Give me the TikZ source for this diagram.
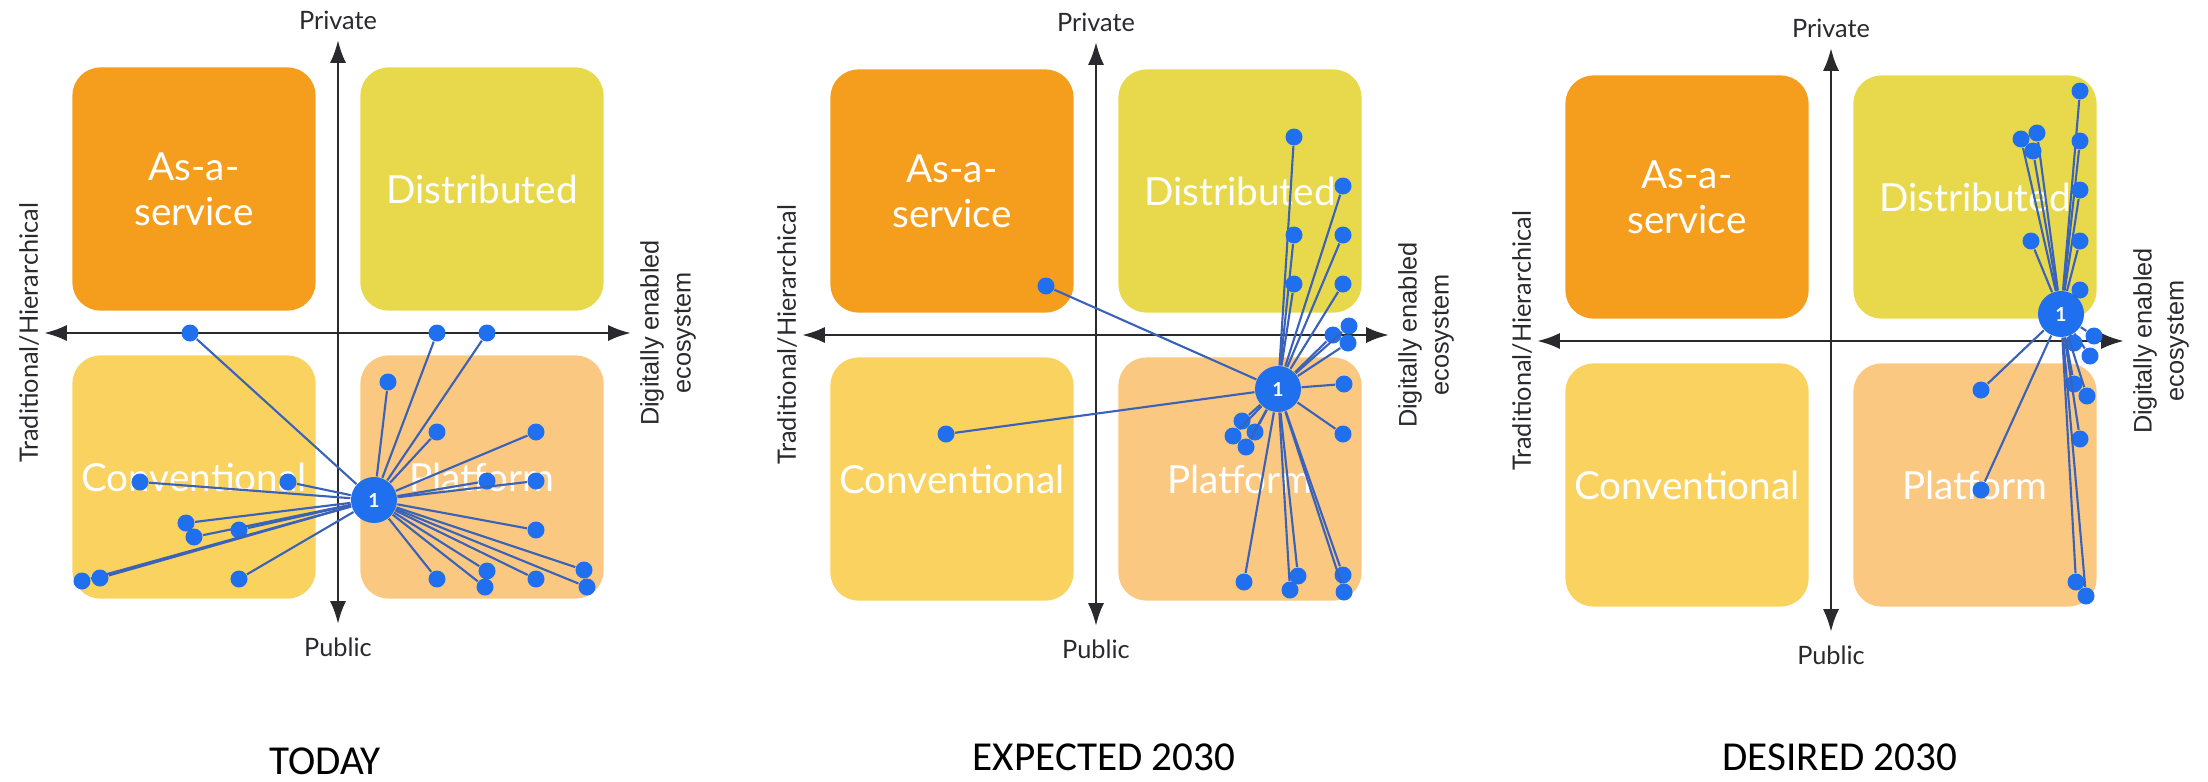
\documentclass[tikz,border=0pt]{standalone}
\usepackage{fontspec}
\setmainfont{Lato}
\newfontfamily\arialfont{Liberation Sans}
\newfontfamily\calibrifont{Carlito}
\usetikzlibrary{arrows.meta, positioning}

\definecolor{asorange}{HTML}{F59E1E}
\definecolor{distyellow}{HTML}{E8D94C}
\definecolor{convyellow}{HTML}{FAD25F}
\definecolor{platpeach}{HTML}{FAC880}
\definecolor{dotblue}{HTML}{1F6FEF}
\definecolor{linkblue}{HTML}{3A62B8}
\definecolor{axisgrey}{HTML}{2A2A2E}

\begin{document}
\begin{tikzpicture}[x=0.01cm, y=-0.01cm,
    quad/.style={rounded corners=0.28cm, minimum width=2.43cm, minimum height=2.43cm,
        inner sep=0pt, text=white, align=center, font=\fontsize{11}{12.8}\selectfont},
    axis/.style={draw=axisgrey, line width=0.8pt,
        {Latex[length=6.5pt,width=4.6pt]}-{Latex[length=6.5pt,width=4.6pt]}},
    axlabel/.style={inner sep=0pt, text=axisgrey, font=\fontsize{7.2}{8.6}\selectfont},
    ecolabel/.style={inner sep=0pt, text=axisgrey, align=center, rotate=90,
        font=\arialfont\fontsize{7.2}{9.1}\selectfont},
    dot/.style={circle, fill=dotblue, minimum size=0.17cm, inner sep=0pt},
    hub/.style={circle, fill=dotblue, minimum size=0.46cm, inner sep=0pt,
        text=white, font=\fontsize{5.5}{6}\selectfont\bfseries},
    link/.style={draw=linkblue, line width=0.6pt},
    title/.style={inner sep=0pt, font=\calibrifont\fontsize{11.7}{14}\selectfont}]

    \useasboundingbox (0,0) rectangle (2208,781);

    % the three quadrant charts
    \foreach \p/\ax/\ay in {1/338/333, 2/1096/335, 3/1831/341} {
        \node[quad, fill=asorange] (as\p) at (\ax-144,\ay-144) {As-a-\\service};
        \node[quad, fill=distyellow] (dist\p) at (\ax+144,\ay-144) {Distributed};
        \node[quad, fill=convyellow] (conv\p) at (\ax-144,\ay+144) {Conventional};
        \node[quad, fill=platpeach] (plat\p) at (\ax+144,\ay+144) {Platform};
        \coordinate (n\p) at (\ax,\ay-293);
        \coordinate (s\p) at (\ax,\ay+291);
        \coordinate (w\p) at (\ax-294,\ay);
        \coordinate (e\p) at (\ax+293,\ay);
        \draw[axis] (w\p) -- (e\p);
        \draw[axis] (s\p) -- (n\p);
        \node[axlabel] (priv\p) at (\ax,\ay-313) {Private};
        \node[axlabel] (pub\p) at (\ax,\ay+314) {Public};
        \node[axlabel, rotate=90] (trad\p) at (\ax-309,\ay) {Traditional/Hierarchical};
        \node[ecolabel] (eco\p) at (\ax+330,\ay) {Digitally enabled\\ecosystem};
    }

    % today
    \node[hub] (hub1) at (374,500) {1};
    \foreach \x/\y [count=\i] in {190/333, 437/333, 487/333, 388/382, 437/432,
        536/432, 140/482, 288/482, 487/481, 536/481, 186/523, 194/537, 239/530,
        536/530, 82/581, 100/578, 239/579, 437/579, 487/571, 485/587, 536/579,
        584/570, 587/587} {
        \node[dot] (t\i) at (\x,\y) {};
        \draw[link] (hub1) -- (t\i);
    }

    % expected 2030
    \node[hub] (hub2) at (1278,389) {1};
    \foreach \x/\y [count=\i] in {1046/286, 946/434, 1294/137, 1343/186,
        1294/235, 1343/235, 1294/284, 1343/284, 1333/335, 1349/326, 1348/343,
        1344/384, 1343/434, 1242/421, 1233/436, 1255/432, 1246/447, 1244/582,
        1298/576, 1290/590, 1343/575, 1344/592} {
        \node[dot] (x\i) at (\x,\y) {};
        \draw[link] (hub2) -- (x\i);
    }

    % desired 2030
    \node[hub] (hub3) at (2061,314) {1};
    \foreach \x/\y [count=\i] in {2080/91, 2021/139, 2037/133, 2033/151,
        2080/141, 2080/190, 2031/241, 2080/241, 2080/290, 2094/336, 2090/356,
        2074/343, 2074/384, 2087/396, 1981/390, 2080/439, 1981/490, 2076/582,
        2086/596} {
        \node[dot] (d\i) at (\x,\y) {};
        \draw[link] (hub3) -- (d\i);
    }

    \node[title] (today) at (325,761) {TODAY};
    \node[title] (expected) at (1104,757) {EXPECTED 2030};
    \node[title] (desired) at (1840,757) {DESIRED 2030};
\end{tikzpicture}
\end{document}
